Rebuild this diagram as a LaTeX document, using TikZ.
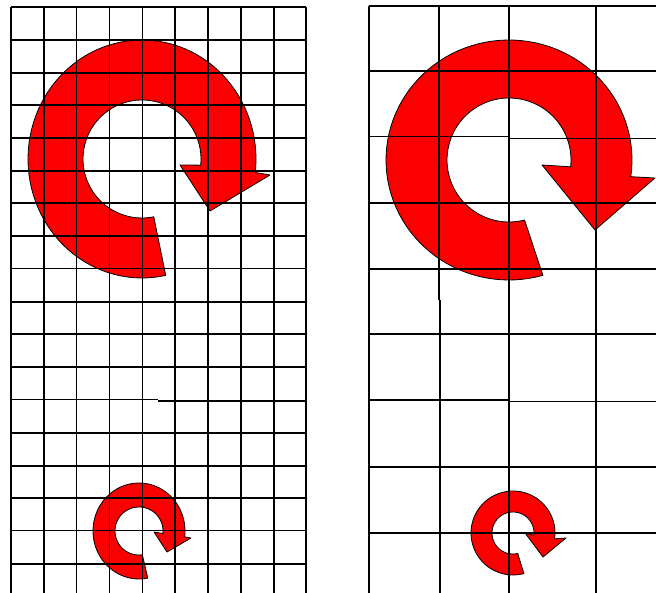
\documentclass[tikz,border=0pt]{standalone}
\begin{document}
\begin{tikzpicture}[x=1pt,y=-1pt,
  redarrow/.style={fill={rgb,255:red,250;green,0;blue,0},draw=black,line width=0.8pt,line join=round},
  gridline/.style={draw=black,line width=1.5pt}]
\fill[white] (0,0) rectangle (656,593);
\useasboundingbox (0,0) rectangle (656,593);
% ---------- arrows (drawn under the grid) ----------
% left big
\filldraw[redarrow]
  plot[domain=78:366.5,samples=90] ({142+114*cos(\x)},{159+119*sin(\x)})
  -- (270,175) -- (210,211) -- (180,165)
  -- plot[domain=366:78.5,samples=90] ({142+59*cos(\x)},{159+59*sin(\x)}) -- cycle;
% right big
\filldraw[redarrow]
  plot[domain=74:368,samples=90] ({509+123*cos(\x)},{160+120*sin(\x)})
  -- (655,178) -- (595,230) -- (542,165)
  -- plot[domain=366.3:75.5,samples=90] ({509+62*cos(\x)},{160+62*sin(\x)}) -- cycle;
% left small
\filldraw[redarrow]
  plot[domain=79:367,samples=70] ({139+46*cos(\x)},{531+48*sin(\x)})
  -- (191,538) -- (167,552) -- (154,532)
  -- plot[domain=366:82,samples=70] ({139+24*cos(\x)},{531+24*sin(\x)}) -- cycle;
% right small
\filldraw[redarrow]
  plot[domain=75:368,samples=70] ({513+42*cos(\x)},{533+42*sin(\x)})
  -- (566,538) -- (543,557) -- (525,533)
  -- plot[domain=366:77,samples=70] ({513+21*cos(\x)},{533+21*sin(\x)}) -- cycle;
% ---------- left grid ----------
\foreach \gx in {11,44,76.5,109.5,142.5,175,208,241,274,306}
  \draw[gridline] (\gx,7) -- (\gx,593);
\foreach \gy in {7,40,73,105,138,171,203,236,268.5,302,334,367,433,466,498,530.5,564}
  \draw[gridline] (11,\gy) -- (306,\gy);
\draw[gridline] (11,399.3) -- (158,399.3);
\draw[gridline] (158,400.8) -- (306,400.8);
% ---------- right grid ----------
\draw[gridline] (369,6) -- (369,593);
\draw[gridline] (439,6) -- (439,300);
\draw[gridline] (440,300) -- (440,593);
\draw[gridline] (509,6) -- (509,593);
\draw[gridline] (596,6) -- (596,593);
\foreach \gy in {6,71,203,269,334,467,533}
  \draw[gridline] (369,\gy) -- (656,\gy);
\draw[gridline] (369,136.7) -- (510,136.7);
\draw[gridline] (510,138.3) -- (656,138.3);
\draw[gridline] (369,400) -- (510,400);
\draw[gridline] (510,401.7) -- (656,401.7);
\end{tikzpicture}
\end{document}
